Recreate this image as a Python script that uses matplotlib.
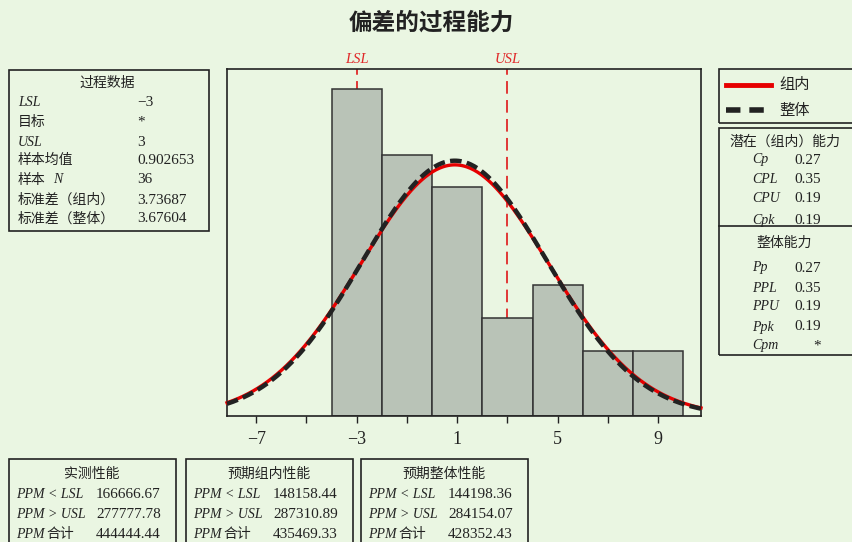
import numpy as np
import matplotlib.pyplot as plt
from matplotlib.patches import Rectangle
from matplotlib.lines import Line2D

# 直方图数据
bin_edges = [-4, -2, 0, 2, 4, 6, 8, 10]
counts = [10, 8, 7, 3, 4, 2, 2]
lsl, usl = -3, 3
mean = 0.902653
n = 36
sd_within = 3.73687
sd_overall = 3.67604
xticks = [-7, -3, 1, 5, 9]
xticklabels = ['−7', '−3', '1', '5', '9']
minor_ticks = [-5, -1, 3, 7]

# 统计表
process_labels = ['LSL', '目标', 'USL', '样本均值', '样本 N', '标准差（组内）', '标准差（整体）']
process_values = ['−3', '*', '3', '0.902653', '36', '3.73687', '3.67604']
within_labels = ['Cp', 'CPL', 'CPU', 'Cpk']
within_values = ['0.27', '0.35', '0.19', '0.19']
overall_labels = ['Pp', 'PPL', 'PPU', 'Ppk', 'Cpm']
overall_values = ['0.27', '0.35', '0.19', '0.19', '*']
perf_titles = ['实测性能', '预期组内性能', '预期整体性能']
ppm_lt = ['166666.67', '148158.44', '144198.36']
ppm_gt = ['277777.78', '287310.89', '284154.07']
ppm_total = ['444444.44', '435469.33', '428352.43']

W, H = 853, 542
bg = '#EAF6E2'
ink = '#222222'
CJK = ['Noto Sans CJK SC', 'DejaVu Sans']
SERIF = ['Liberation Serif', 'Noto Sans CJK SC']

fig = plt.figure(figsize=(W / 100, H / 100), dpi=100, facecolor=bg)


def put(x, y, s, italic=False, serif=False, size=10, ha='left', color=ink, **kw):
    fig.text(x / W, 1 - y / H, s, ha=ha, va='center', fontsize=size,
             family=SERIF if serif else CJK,
             style='italic' if italic else 'normal', color=color, **kw)


def box(x0, y0, x1, y1):
    fig.add_artist(Rectangle((x0 / W, 1 - y1 / H), (x1 - x0) / W, (y1 - y0) / H,
                             transform=fig.transFigure, fill=False,
                             ec=ink, lw=1.2, clip_on=False))


def hline(x0, x1, y):
    fig.add_artist(Line2D([x0 / W, x1 / W], [1 - y / H, 1 - y / H],
                          transform=fig.transFigure, color=ink, lw=1.2))


# 主图
ax = fig.add_axes([227 / W, 1 - 416 / H, (701 - 227) / W, (416 - 69) / H])
ax.set_facecolor(bg)
xmin, xmax = -8.16, 10.70
ax.set_xlim(xmin, xmax)
ax.set_ylim(0, 10.62)

widths = np.diff(bin_edges)
ax.bar(bin_edges[:-1], counts, width=widths, align='edge',
       color='#B9C3B7', edgecolor='#333333', linewidth=1.1, zorder=2)

for v, name in [(lsl, 'LSL'), (usl, 'USL')]:
    ax.axvline(v, color='#E02828', lw=1.3, ls=(0, (7, 3.5)), zorder=1)
    ax.text(v, 10.62 + 0.3, name, ha='center', va='center', color='#E02828',
            fontsize=10.5, family=SERIF, style='italic')

xs = np.linspace(xmin, xmax, 400)
bw = widths[0]


def normal_curve(sd):
    return n * bw * np.exp(-0.5 * ((xs - mean) / sd) ** 2) / (sd * np.sqrt(2 * np.pi))


ax.plot(xs, normal_curve(sd_within), color='#E60000', lw=2.4, zorder=3, clip_on=False)
ax.plot(xs, normal_curve(sd_overall), color='#222222', lw=3.2, zorder=4,
        dashes=(2.6, 1.2), clip_on=False)

ax.set_xticks(xticks)
ax.set_xticklabels(xticklabels, family=SERIF, fontsize=13, color=ink)
ax.set_xticks(minor_ticks, minor=True)
ax.tick_params(axis='x', which='both', direction='out', length=5, width=1, color=ink, pad=6)
ax.set_yticks([])
for sp in ax.spines.values():
    sp.set_color(ink)
    sp.set_linewidth(1.2)

# 标题
put(431, 23, '偏差的过程能力', size=17, ha='center', weight='bold')

# 过程数据
box(9, 70, 209, 231)
put(107, 83, '过程数据', ha='center')
rows_y = [103, 122, 142, 160, 180, 200, 219]
for lab, val, y in zip(process_labels, process_values, rows_y):
    if lab in ('LSL', 'USL'):
        put(18, y, lab, italic=True, serif=True)
    elif lab == '样本 N':
        put(18, y, '样本')
        put(53, y, 'N', italic=True, serif=True)
    else:
        put(18, y, lab)
    put(137, y, val, serif=True, size=11)

# 图例
box(719, 69, 870, 123)
fig.add_artist(Line2D([726 / W, 771 / W], [1 - 84.5 / H] * 2, transform=fig.transFigure,
                      color='#E60000', lw=3.5))
fig.add_artist(Line2D([726 / W, 771 / W], [1 - 109.5 / H] * 2, transform=fig.transFigure,
                      color='#222222', lw=4, dashes=(2.6, 1.6)))
put(779, 85, '组内', size=11)
put(779, 110, '整体', size=11)

# 能力
box(719, 128, 870, 355)
hline(719, 853, 226)
put(785, 142, '潜在（组内）能力', ha='center')
for lab, val, y in zip(within_labels, within_values, [160, 180, 199, 220]):
    put(752, y, lab, italic=True, serif=True)
    put(821, y, val, serif=True, ha='right', size=11)
put(784, 243, '整体能力', ha='center')
for lab, val, y in zip(overall_labels, overall_values, [268, 288, 307, 327, 346]):
    put(752, y, lab, italic=True, serif=True)
    put(821, y, val, serif=True, ha='right', size=11)

# 性能
for i, x0 in enumerate([9, 186, 361]):
    box(x0, 459, x0 + 167, 560)
    put(x0 + 83, 474, perf_titles[i], ha='center')
    put(x0 + 7, 494, 'PPM < LSL', italic=True, serif=True)
    put(x0 + 7, 514, 'PPM > USL', italic=True, serif=True)
    put(x0 + 7, 534, 'PPM', italic=True, serif=True)
    put(x0 + 37, 534, '合计')
    put(x0 + 87, 494, ppm_lt[i], serif=True, size=11)
    put(x0 + 87, 514, ppm_gt[i], serif=True, size=11)
    put(x0 + 87, 534, ppm_total[i], serif=True, size=11)

fig.savefig('out.png', dpi=100, facecolor=bg)
